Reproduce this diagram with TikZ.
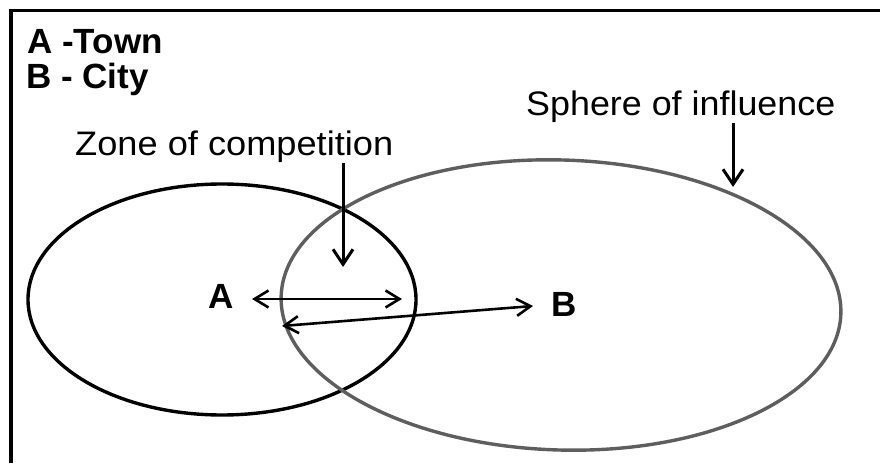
\documentclass[tikz,border=0pt]{standalone}
\usepackage{fontspec}
\setmainfont{Liberation Sans}
\usetikzlibrary{arrows.meta,shapes.geometric}
\definecolor{ringgray}{HTML}{5E5E5E}
\begin{document}
\begin{tikzpicture}[x=1pt,y=1pt,
  legendtext/.style={anchor=base west,inner sep=0,font=\fontsize{35}{40}\selectfont\bfseries},
  labeltext/.style={anchor=base west,inner sep=0,font=\fontsize{34}{40}\selectfont},
  pointtext/.style={anchor=base,inner sep=0,font=\fontsize{35}{40}\selectfont\bfseries},
  townring/.style={ellipse,draw=black,line width=3.4pt,inner sep=0},
  cityring/.style={ellipse,draw=ringgray,line width=3.4pt,inner sep=0},
  conn/.style={line width=2.6pt,{Straight Barb[length=14pt,width=17pt]}-{Straight Barb[length=14pt,width=17pt]}},
  pointer/.style={line width=3pt,-{Straight Barb[length=15pt,width=20pt]}}]
\useasboundingbox (0,0) rectangle (880,463);
\fill[white] (0,0) rectangle (880,463);
% frame
\coordinate (fbl) at (11,0);
\coordinate (ftl) at (11,452.5);
\coordinate (ftr) at (880,452.5);
\draw[line width=3.2pt] (fbl) -- (ftl) -- (ftr);
% rings
\node[townring,minimum width=388pt,minimum height=231pt] (town) at (222,163.5) {};
\node[cityring,minimum width=560pt,minimum height=290pt,rotate=-1.8] (city) at (561,158) {};
% legend
\node[legendtext] (lega) at (27,409) {A -Town};
\node[legendtext] (legb) at (26,374) {B - City};
% labels
\node[labeltext] (zone) at (75,307) {\scalebox{1.065}[1]{Zone of competition}};
\node[labeltext] (sphere) at (526,347) {\scalebox{1.055}[1]{Sphere of influence}};
\node[pointtext] (pa) at (221,154) {A};
\node[pointtext] (pb) at (564,146) {B};
% arrows
\coordinate (zonetop) at (343,300);
\coordinate (zonetip) at (343,196);
\coordinate (sphtop) at (733,340);
\coordinate (sphtip) at (733,276);
\coordinate (a1) at (252,164);
\coordinate (a2) at (402,164);
\coordinate (b1) at (282,137);
\coordinate (b2) at (533,157);
\draw[pointer] (zonetop) -- (zonetip);
\draw[pointer] (sphtop) -- (sphtip);
\draw[conn] (a1) -- (a2);
\draw[conn] (b1) -- (b2);
\end{tikzpicture}
\end{document}
